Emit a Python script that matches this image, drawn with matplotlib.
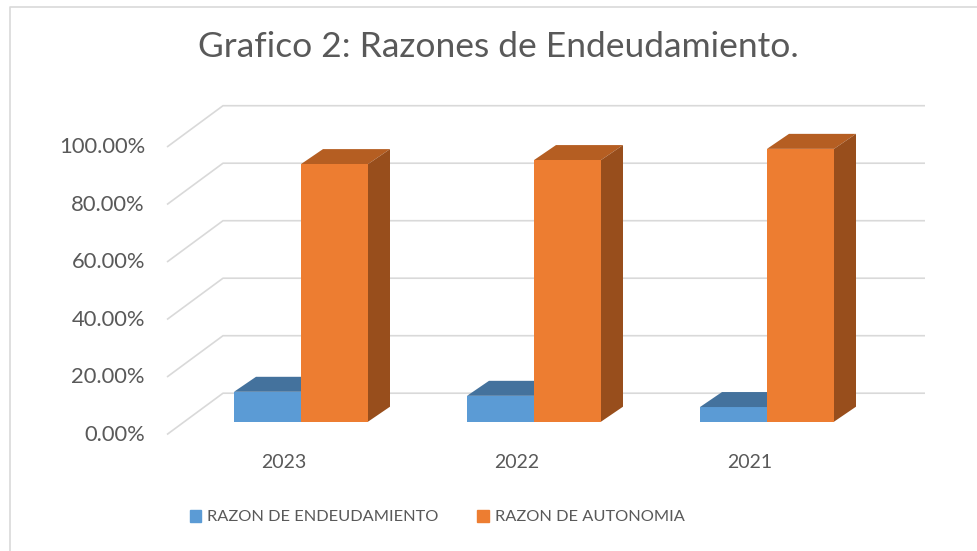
import numpy as np
import matplotlib
matplotlib.use("Agg")
import matplotlib.pyplot as plt
from matplotlib.patches import Rectangle

# data
years = ["2023", "2022", "2021"]
endeudamiento = [10.4, 9.0, 5.1]
autonomia = [89.6, 91.0, 94.9]
ticks = [0, 20, 40, 60, 80, 100]
title = "Grafico 2: Razones de Endeudamiento."

blue, blue_top = "#5B9BD5", "#44729D"
orange, orange_top, orange_side = "#ED7D31", "#B55E22", "#984E1C"
grid_c = "#D9D9D9"
txt_c = "#595959"

plt.rcParams["font.family"] = ["Lato", "DejaVu Sans"]

W, H = 977, 551
fig = plt.figure(figsize=(W / 100, H / 100), dpi=100)
ax = fig.add_axes([0, 0, 1, 1])

# pixel mapping: category i centre at px 301 + 233 i, value 0 at py 421.7, 2.875 px per %
px_cat, x0px = 233.0, 301.0
py0, py_per = 421.7, 2.875
ax.set_xlim((0 - x0px) / px_cat, (W - x0px) / px_cat)
ax.set_ylim((py0 - H) / py_per, py0 / py_per)
ax.axis("off")

# oblique depth: full floor depth shifts (56 px right, 41.3 px up)
full_dx, full_dy = 56 / px_cat, 41.3 / py_per
back = 0.69    # back wall, relative to bar front plane
front = -0.31  # front floor edge
xb = (223 - x0px) / px_cat
xr = (925 - x0px) / px_cat

for t in ticks:
    yb = t + back * full_dy
    xf, yf = xb - full_dx, yb - full_dy
    ax.plot([xf, xb, xr], [yf, yb, yb], color=grid_c, lw=1.2, zorder=1,
            solid_capstyle="butt")
    ax.text(xf - 22 / px_cat, yf, f"{t:.2f}%", ha="right", va="center",
            fontsize=15.8, color=txt_c)

w = 67 / px_cat
bdx, bdy = 22 / px_cat, 15 / py_per
x = np.arange(len(years))

ax.bar(x - w, endeudamiento, width=w, align="edge", color=blue, zorder=2)
ax.bar(x, autonomia, width=w, align="edge", color=orange, zorder=4)
for i in range(len(years)):
    v = endeudamiento[i]
    a, b = x[i] - w, x[i]
    ax.fill([a, b, b + bdx, a + bdx], [v, v, v + bdy, v + bdy],
            color=blue_top, lw=0, zorder=2)
    v = autonomia[i]
    a, b = x[i], x[i] + w
    ax.fill([a, b, b + bdx, a + bdx], [v, v, v + bdy, v + bdy],
            color=orange_top, lw=0, zorder=3)
    ax.fill([b, b + bdx, b + bdx, b], [0, bdy, v + bdy, v],
            color=orange_side, lw=0, zorder=3)
    ax.text(x[i] + front * full_dx, (py0 - 462) / py_per, years[i],
            ha="center", va="center", fontsize=14, color=txt_c)

fig.text(498 / W, 1 - 47 / H, title, ha="center", va="center",
         fontsize=25.5, color=txt_c)

handles = [Rectangle((0, 0), 1, 1, color=blue), Rectangle((0, 0), 1, 1, color=orange)]
leg = ax.legend(handles, ["RAZON DE ENDEUDAMIENTO", "RAZON DE AUTONOMIA"],
                loc="center", bbox_to_anchor=(437 / W, 1 - 517 / H), ncol=2,
                frameon=False, fontsize=11.8, handlelength=0.7, handleheight=0.75,
                handletextpad=0.35, columnspacing=2.4, labelcolor=txt_c)

# chart border
fig.add_artist(plt.Line2D([10 / W, 10 / W, 1], [0, 1 - 6.5 / H, 1 - 6.5 / H],
                          transform=fig.transFigure, color=grid_c, lw=1.2))

fig.savefig("out.png", dpi=100, facecolor="white")
